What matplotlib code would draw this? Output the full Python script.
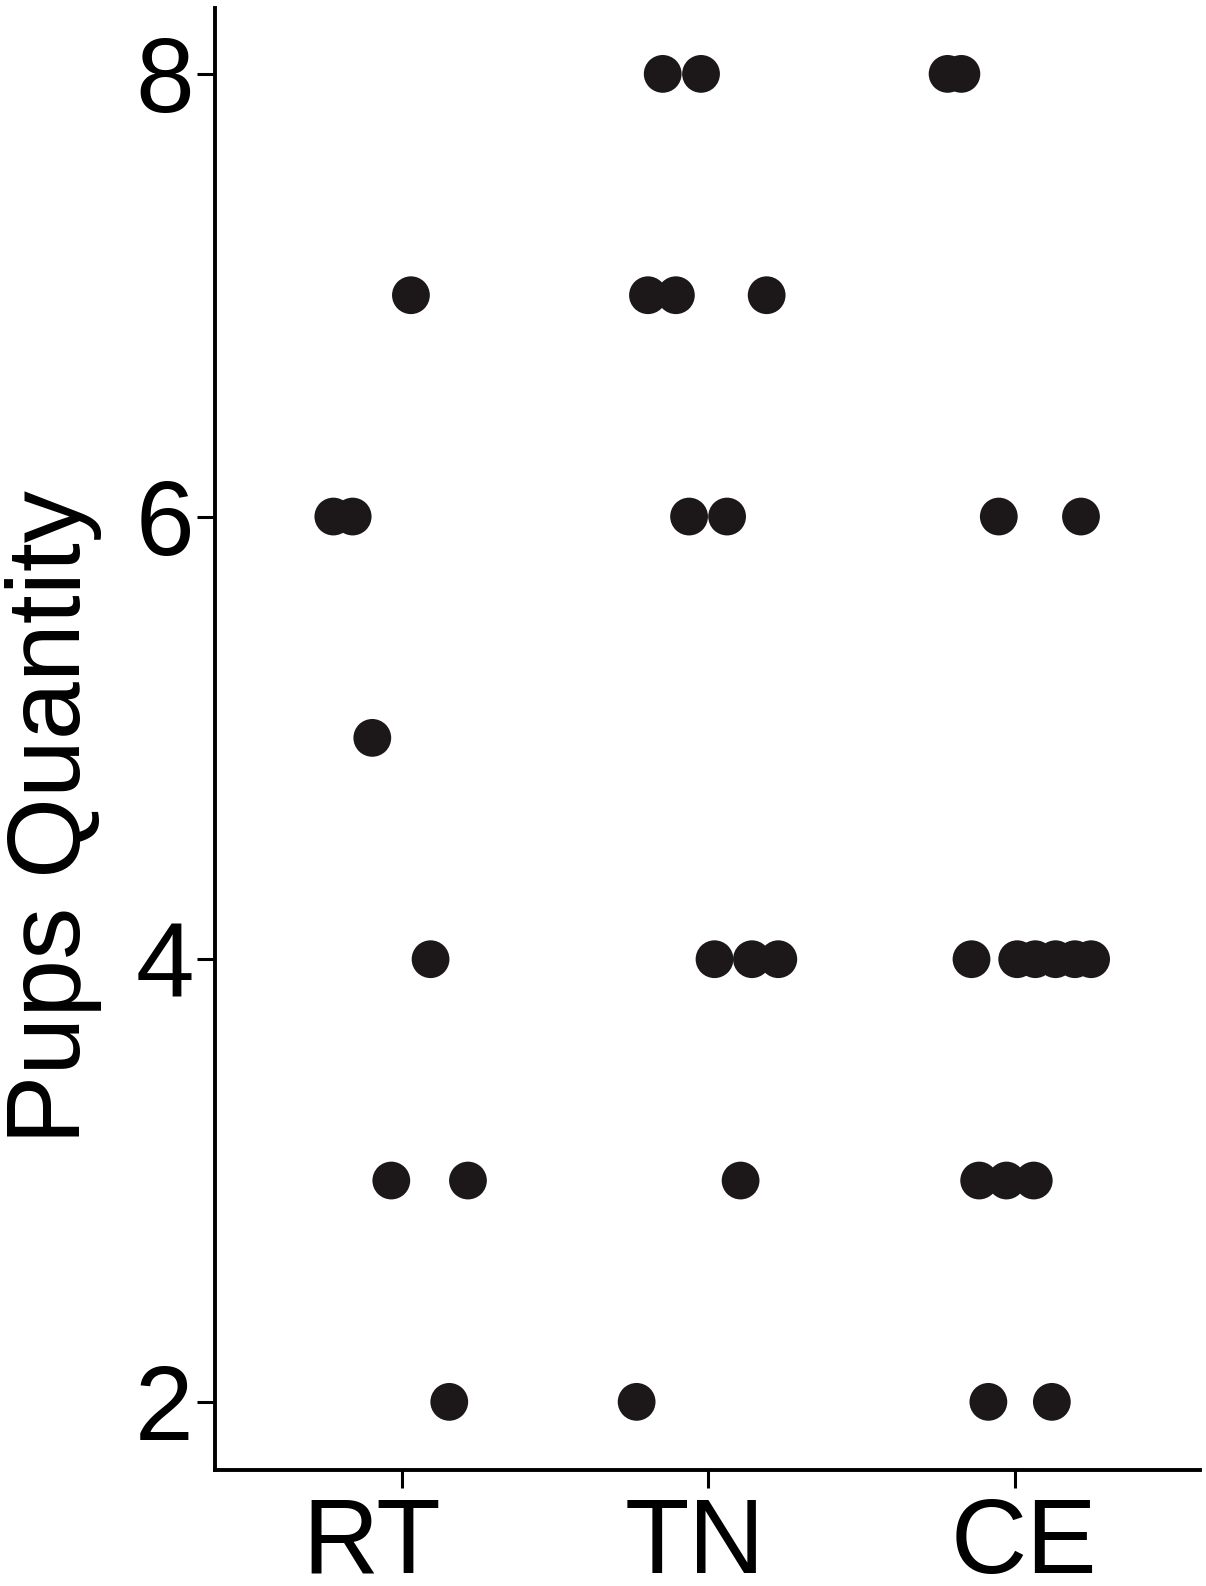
import matplotlib.pyplot as plt
from matplotlib.transforms import ScaledTranslation

plt.rcParams['font.family'] = ['Liberation Sans', 'DejaVu Sans']

grupos = ['RT', 'TN', 'CE']

# pups per litter, and the horizontal jitter each dot got in the figure
rt_y = [7, 6, 6, 5, 4, 3, 3, 2]
rt_dx = [0.03, -0.223, -0.16, -0.096, 0.094, -0.034, 0.216, 0.155]

tn_y = [8, 8, 7, 7, 7, 6, 6, 4, 4, 4, 3, 2]
tn_dx = [-0.149, -0.024, -0.197, -0.106, 0.19, -0.063, 0.061, 0.02, 0.142, 0.228, 0.105, -0.234]

ce_y = [8, 8, 6, 6, 4, 4, 4, 4, 4, 4, 3, 3, 3, 2, 2]
ce_dx = [-0.22, -0.175, -0.053, 0.215, -0.142, 0.007, 0.066, 0.132, 0.195, 0.248,
         -0.117, -0.028, 0.061, -0.087, 0.12]

datos = [(rt_y, rt_dx), (tn_y, tn_dx), (ce_y, ce_dx)]

fig = plt.figure(figsize=(12.06, 15.86), dpi=100)
ax = fig.add_axes([0.178, 0.0734, 0.817, 0.9216])

for i, (ys, dxs) in enumerate(datos):
    xs = [i + d for d in dxs]
    ax.scatter(xs, ys, s=740, color='#1c1819', edgecolors='none', zorder=3)

ax.set_xlim(-0.61, 2.603)
ax.set_ylim(1.694, 8.298)
ax.set_xticks(range(len(grupos)))
ax.set_xticklabels(grupos)
ax.set_yticks([2, 4, 6, 8])

ax.spines['top'].set_visible(False)
ax.spines['right'].set_visible(False)
ax.spines['left'].set_linewidth(2.8)
ax.spines['bottom'].set_linewidth(2.8)
ax.tick_params(axis='both', length=13, width=2.2, labelsize=76, colors='black')
ax.tick_params(axis='y', pad=2)
ax.tick_params(axis='x', pad=6)

# the category labels are not quite centred under their ticks in the original
desplaz = [-30, -14, 9]
for lab, d in zip(ax.get_xticklabels(), desplaz):
    lab.set_transform(lab.get_transform() + ScaledTranslation(d / 100, 0, fig.dpi_scale_trans))

ax.set_ylabel('Pups Quantity', fontsize=75)
ax.yaxis.set_label_coords(-0.114, 0.4465)

fig.savefig('out.png', dpi=100)
